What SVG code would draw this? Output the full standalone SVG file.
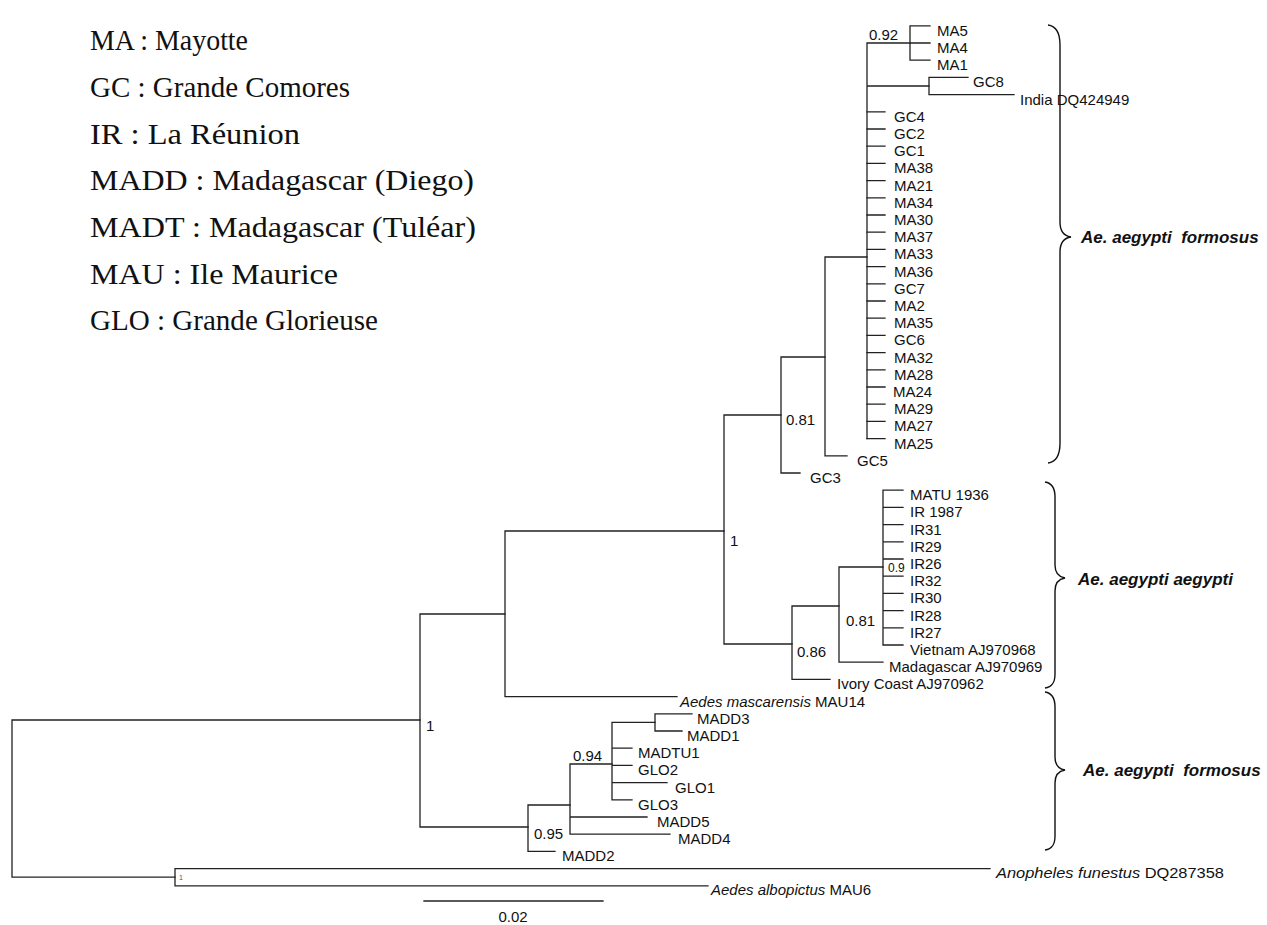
<svg xmlns="http://www.w3.org/2000/svg" width="1267" height="925" viewBox="0 0 1267 925">
<style>
.br{stroke:#222;stroke-width:1.3;fill:none;stroke-linecap:square}
.brace{stroke:#111;stroke-width:1.4;fill:none}
.lf{font-family:"Liberation Sans",Arial,sans-serif;font-size:15px;fill:#111}
.it{font-style:italic}
.sp{font-family:"Liberation Sans",Arial,sans-serif;font-size:15px;fill:#111}
.lg{font-family:"Liberation Serif","Times New Roman",serif;font-size:30px;fill:#111}
.cl{font-family:"Liberation Sans",Arial,sans-serif;font-size:17px;font-weight:bold;font-style:italic;fill:#111}
</style>
<rect width="1267" height="925" fill="#fff"/>
<g id="legend">
<text class="lg" x="90" y="50" textLength="158" lengthAdjust="spacingAndGlyphs">MA : Mayotte</text>
<text class="lg" x="90" y="97" textLength="260" lengthAdjust="spacingAndGlyphs">GC : Grande Comores</text>
<text class="lg" x="90" y="144" textLength="210" lengthAdjust="spacingAndGlyphs">IR : La Réunion</text>
<text class="lg" x="90" y="190" textLength="384" lengthAdjust="spacingAndGlyphs">MADD : Madagascar (Diego)</text>
<text class="lg" x="90" y="237" textLength="386" lengthAdjust="spacingAndGlyphs">MADT : Madagascar (Tuléar)</text>
<text class="lg" x="90" y="284" textLength="248" lengthAdjust="spacingAndGlyphs">MAU : Ile Maurice</text>
<text class="lg" x="90" y="330" textLength="288" lengthAdjust="spacingAndGlyphs">GLO : Grande Glorieuse</text>
</g>
<g id="connectors" class="br">
<path d="M12,720 V877.2 M12,720 H420 M12,877.2 H175"/>
<path d="M420,614 V827 M420,614 H505 M420,827 H528"/>
<path d="M505,531 V696.6 M505,531 H724 M505,696.6 H677"/>
<path d="M724,415 V644 M724,415 H781 M724,644 H792"/>
<path d="M781,357 V473 M781,357 H825 M781,473 H800"/>
<path d="M825,257 V455.8 M825,257 H867 M825,455.8 H847"/>
<path d="M867,43 V438.6 M867,43 H910 M867,86 H929"/>
<path d="M867,111.8 H885 M867,129 H885 M867,146.2 H885 M867,163.4 H885 M867,180.6 H885 M867,197.8 H885 M867,215 H885 M867,232.2 H885 M867,249.4 H885 M867,266.6 H885 M867,283.8 H885 M867,301 H885 M867,318.2 H885 M867,335.4 H885 M867,352.6 H885 M867,369.8 H885 M867,387 H885 M867,404.2 H885 M867,421.4 H885 M867,438.6 H885"/>
<path d="M910,25.8 V60.2 M910,25.8 H930 M910,43 H930 M910,60.2 H930"/>
<path d="M929,77.4 V94.6 M929,77.4 H968 M929,94.6 H1014"/>
<path d="M792,606 V679.4 M792,606 H839 M792,679.4 H830"/>
<path d="M839,567 V662.2 M839,567 H883 M839,662.2 H883"/>
<path d="M883,490.2 V645 M883,490.2 H903 M883,507.4 H903 M883,524.6 H903 M883,541.8 H903 M883,559 H903 M883,576.2 H903 M883,593.4 H903 M883,610.6 H903 M883,627.8 H903 M883,645 H903"/>
<path d="M528,805 V851.4 M528,805 H570 M528,851.4 H555"/>
<path d="M570,764 V834.2 M570,764 H612 M570,817 H647 M570,834.2 H670"/>
<path d="M612,722.4 V799.8 M612,722.4 H655 M612,748.2 H632 M612,765.4 H632 M612,782.6 H667 M612,799.8 H632"/>
<path d="M655,713.8 V731 M655,713.8 H692 M655,731 H682"/>
<path d="M175,868.6 V885.8 M175,868.6 H990 M175,885.8 H708"/>
<path d="M424,901 H603"/>
</g>
<g id="support">
<text class="sp" x="869" y="40">0.92</text>
<text class="sp" x="786" y="425">0.81</text>
<text class="sp" x="730" y="546">1</text>
<text class="sp" x="888" y="572" style="font-size:12px">0.9</text>
<text class="sp" x="846" y="626">0.81</text>
<text class="sp" x="797" y="657">0.86</text>
<text class="sp" x="426" y="731">1</text>
<text class="sp" x="573" y="761">0.94</text>
<text class="sp" x="534" y="839">0.95</text>
<text class="sp" x="179" y="880" style="font-size:7px;fill:#555">1</text>
</g>
<g id="leaf-MA5"><text class="lf" x="937" y="35.8">MA5</text></g>
<g id="leaf-MA4"><text class="lf" x="937" y="53">MA4</text></g>
<g id="leaf-MA1"><text class="lf" x="937" y="70.2">MA1</text></g>
<g id="leaf-GC8"><text class="lf" x="973" y="87.4">GC8</text></g>
<g id="leaf-India"><text class="lf" x="1020" y="104.6">India DQ424949</text></g>
<g id="leaf-GC4"><text class="lf" x="894" y="121.8">GC4</text></g>
<g id="leaf-GC2"><text class="lf" x="894" y="139">GC2</text></g>
<g id="leaf-GC1"><text class="lf" x="894" y="156.2">GC1</text></g>
<g id="leaf-MA38"><text class="lf" x="894" y="173.4">MA38</text></g>
<g id="leaf-MA21"><text class="lf" x="894" y="190.6">MA21</text></g>
<g id="leaf-MA34"><text class="lf" x="894" y="207.8">MA34</text></g>
<g id="leaf-MA30"><text class="lf" x="894" y="225">MA30</text></g>
<g id="leaf-MA37"><text class="lf" x="894" y="242.2">MA37</text></g>
<g id="leaf-MA33"><text class="lf" x="894" y="259.4">MA33</text></g>
<g id="leaf-MA36"><text class="lf" x="894" y="276.6">MA36</text></g>
<g id="leaf-GC7"><text class="lf" x="894" y="293.8">GC7</text></g>
<g id="leaf-MA2"><text class="lf" x="894" y="311">MA2</text></g>
<g id="leaf-MA35"><text class="lf" x="894" y="328.2">MA35</text></g>
<g id="leaf-GC6"><text class="lf" x="894" y="345.4">GC6</text></g>
<g id="leaf-MA32"><text class="lf" x="894" y="362.6">MA32</text></g>
<g id="leaf-MA28"><text class="lf" x="894" y="379.8">MA28</text></g>
<g id="leaf-MA24"><text class="lf" x="893" y="397">MA24</text></g>
<g id="leaf-MA29"><text class="lf" x="894" y="414.2">MA29</text></g>
<g id="leaf-MA27"><text class="lf" x="894" y="431.4">MA27</text></g>
<g id="leaf-MA25"><text class="lf" x="894" y="448.6">MA25</text></g>
<g id="leaf-GC5"><text class="lf" x="857" y="465.8">GC5</text></g>
<g id="leaf-GC3"><text class="lf" x="810" y="483">GC3</text></g>
<g id="leaf-MATU1936"><text class="lf" x="910" y="500.2">MATU 1936</text></g>
<g id="leaf-IR1987"><text class="lf" x="910" y="517.4">IR 1987</text></g>
<g id="leaf-IR31"><text class="lf" x="910" y="534.6">IR31</text></g>
<g id="leaf-IR29"><text class="lf" x="910" y="551.8">IR29</text></g>
<g id="leaf-IR26"><text class="lf" x="910" y="569">IR26</text></g>
<g id="leaf-IR32"><text class="lf" x="910" y="586.2">IR32</text></g>
<g id="leaf-IR30"><text class="lf" x="910" y="603.4">IR30</text></g>
<g id="leaf-IR28"><text class="lf" x="910" y="620.6">IR28</text></g>
<g id="leaf-IR27"><text class="lf" x="910" y="637.8">IR27</text></g>
<g id="leaf-Vietnam"><text class="lf" x="910" y="655">Vietnam AJ970968</text></g>
<g id="leaf-Madagascar"><text class="lf" x="889" y="672.2">Madagascar AJ970969</text></g>
<g id="leaf-IvoryCoast"><text class="lf" x="837" y="689.4">Ivory Coast AJ970962</text></g>
<g id="leaf-mascarensis"><text class="lf" x="680" y="706.6"><tspan class="it">Aedes mascarensis</tspan> MAU14</text></g>
<g id="leaf-MADD3"><text class="lf" x="697" y="723.8">MADD3</text></g>
<g id="leaf-MADD1"><text class="lf" x="687" y="741">MADD1</text></g>
<g id="leaf-MADTU1"><text class="lf" x="638" y="758.2">MADTU1</text></g>
<g id="leaf-GLO2"><text class="lf" x="638" y="775.4">GLO2</text></g>
<g id="leaf-GLO1"><text class="lf" x="675" y="792.6">GLO1</text></g>
<g id="leaf-GLO3"><text class="lf" x="638" y="809.8">GLO3</text></g>
<g id="leaf-MADD5"><text class="lf" x="657" y="827">MADD5</text></g>
<g id="leaf-MADD4"><text class="lf" x="678" y="844.2">MADD4</text></g>
<g id="leaf-MADD2"><text class="lf" x="562" y="861.4">MADD2</text></g>
<g id="leaf-Anopheles"><text class="lf" x="996" y="877.6" textLength="228" lengthAdjust="spacingAndGlyphs"><tspan class="it">Anopheles funestus</tspan> DQ287358</text></g>
<g id="leaf-albopictus"><text class="lf" x="711" y="894.8"><tspan class="it">Aedes albopictus</tspan> MAU6</text></g>
<g id="scale"><text class="lf" x="513" y="922" text-anchor="middle">0.02</text></g>
<g id="clade-formosus-1">
<path class="brace" d="M1048,25 C1056,26 1060,32 1060,45 L1060,222 C1060,231 1064,236 1071,237 C1064,238 1060,243 1060,252 L1060,443 C1060,456 1056,462 1048,463"/>
<text class="cl" x="1081" y="243">Ae. aegypti&#160; formosus</text>
</g>
<g id="clade-aegypti">
<path class="brace" d="M1045,482 C1052,483 1055,488 1055,497 L1055,565 C1055,573 1059,577 1065,578 C1059,579 1055,583 1055,591 L1055,674 C1055,683 1052,687 1045,688"/>
<text class="cl" x="1078" y="585">Ae. aegypti aegypti</text>
</g>
<g id="clade-formosus-2">
<path class="brace" d="M1045,692 C1052,693 1055,698 1055,707 L1055,757 C1055,765 1059,769 1065,770 C1059,771 1055,775 1055,783 L1055,836 C1055,845 1052,849 1045,850"/>
<text class="cl" x="1083" y="776">Ae. aegypti&#160; formosus</text>
</g>
</svg>
